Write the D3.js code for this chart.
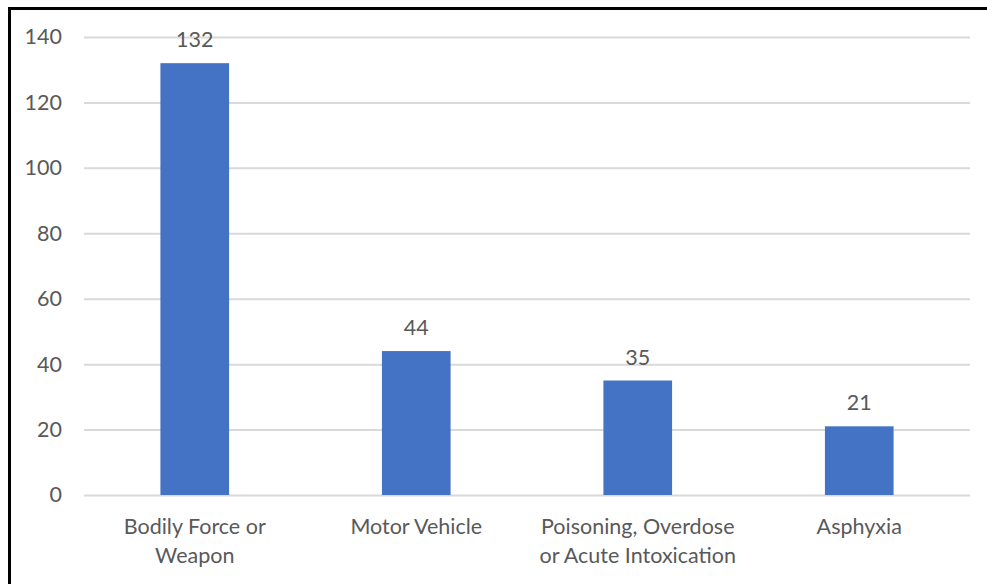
<!DOCTYPE html>
<html>
<head>
<meta charset="utf-8">
<script src="https://cdn.jsdelivr.net/npm/d3@7/dist/d3.min.js"></script>
<style>
  html, body { margin: 0; padding: 0; background: #fff; }
  svg { display: block; }
  text { font-family: Lato, "Open Sans", sans-serif; fill: #595959; }
</style>
</head>
<body>
<svg id="chart" width="987" height="584"></svg>
<script>
// Cases by cause
const categories = [
  ["Bodily Force or", "Weapon"],
  ["Motor Vehicle"],
  ["Poisoning, Overdose", "or Acute Intoxication"],
  ["Asphyxia"]
];
const values = [132, 44, 35, 21];
const yTicks = [0, 20, 40, 60, 80, 100, 120, 140];

const svg = d3.select("#chart");
const W = 987, H = 584;
const plot = { left: 84, right: 970, top: 37, bottom: 495 };
const fontSize = "21.5px";

// frame: top and left edges
svg.append("path")
  .attr("d", `M9.5,${H} L9.5,8.5 L${W},8.5`)
  .attr("fill", "none")
  .attr("stroke", "#000")
  .attr("stroke-width", 3);

const x = d3.scaleBand()
  .domain(d3.range(categories.length))
  .range([plot.left, plot.right])
  .paddingInner(0.69)
  .paddingOuter(0.345);

const y = d3.scaleLinear()
  .domain([0, 140])
  .range([plot.bottom, plot.top]);

// gridlines + tick labels
const yAxis = d3.axisLeft(y)
  .tickValues(yTicks)
  .tickSize(-(plot.right - plot.left))
  .tickPadding(22);

const gy = svg.append("g")
  .attr("transform", `translate(${plot.left},0)`)
  .call(yAxis);
gy.select(".domain").remove();
gy.selectAll(".tick line").attr("stroke", "#d9d9d9").attr("stroke-width", 2);
gy.selectAll(".tick text")
  .style("font-family", "Lato, 'Open Sans', sans-serif")
  .style("font-size", fontSize)
  .attr("fill", "#595959");

// bars
svg.append("g")
  .selectAll("rect")
  .data(values)
  .join("rect")
  .attr("x", (d, i) => x(i))
  .attr("width", x.bandwidth())
  .attr("y", d => y(d))
  .attr("height", d => y(0) - y(d))
  .attr("fill", "#4472C4");

// value labels
svg.append("g")
  .selectAll("text")
  .data(values)
  .join("text")
  .attr("x", (d, i) => x(i) + x.bandwidth() / 2)
  .attr("y", d => y(d) - 16)
  .attr("text-anchor", "middle")
  .style("font-size", fontSize)
  .text(d => d);

// category labels
const xl = svg.append("g");
categories.forEach((lines, i) => {
  const t = xl.append("text")
    .attr("x", x(i) + x.bandwidth() / 2)
    .attr("y", plot.bottom + 39)
    .attr("text-anchor", "middle")
    .style("font-size", fontSize);
  lines.forEach((ln, j) => {
    t.append("tspan")
      .attr("x", x(i) + x.bandwidth() / 2)
      .attr("dy", j === 0 ? 0 : 29)
      .text(ln);
  });
});
</script>
</body>
</html>
